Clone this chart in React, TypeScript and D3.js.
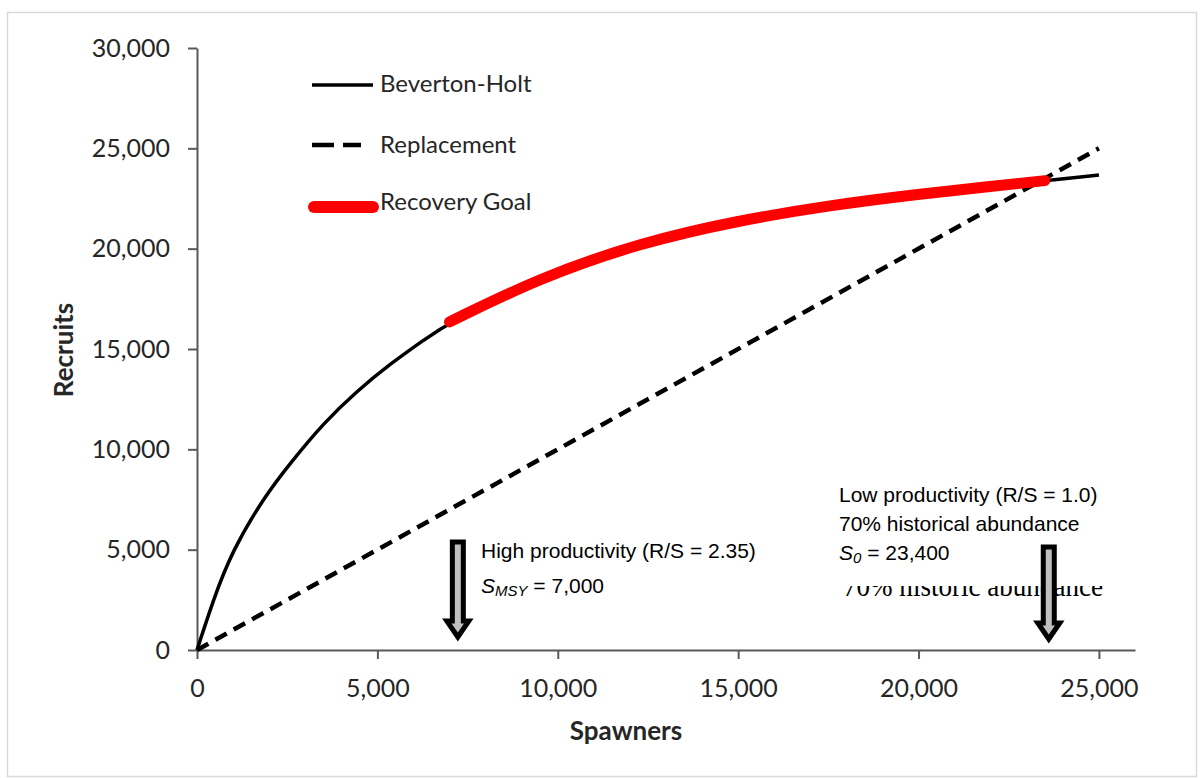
import * as d3 from "d3";
import React, { useEffect, useRef } from "react";

// Beverton-Holt curve
const spawners = [0, 450, 960, 1890, 2580, 3500, 4430, 5350, 6250, 7000, 9500, 12300, 15000, 17500, 20000, 22000, 23500, 25000];
const recruits = [0, 2490, 4900, 7700, 9300, 11300, 12900, 14250, 15400, 16350, 18550, 20300, 21400, 22150, 22720, 23100, 23390, 23670];

// replacement line R = S
const replacementS = [0, 25000];
const replacementR = [0, 25000];

// recovery goal segment on the curve
const goalFrom = 7000;
const goalTo = 23500;

const xTicks = [0, 5000, 10000, 15000, 20000, 25000];
const yTicks = [0, 5000, 10000, 15000, 20000, 25000, 30000];

// block arrows marking S_MSY and S_0
const arrowS = [7230, 23610];
const arrowTopR = [5380, 5130];
const arrowTipR = [500, 400];

const legendNames = ["Beverton-Holt", "Replacement", "Recovery Goal"];

const W = 1202;
const H = 778;
const calibri = "Lato, 'Open Sans', sans-serif";
const arial = "'Liberation Sans', Arial, sans-serif";

const Chart: React.FC = () => {
  const ref = useRef<SVGSVGElement>(null);

  useEffect(() => {
    if (!ref.current) return;
    const svg = d3.select(ref.current);
    svg.selectAll("*").remove();

    const x = d3.scaleLinear().domain([0, 26000]).range([197, 1135]);
    const y = d3.scaleLinear().domain([0, 30000]).range([650, 48]);

    // frame
    svg
      .append("rect")
      .attr("x", 7.5)
      .attr("y", 12.5)
      .attr("width", 1189)
      .attr("height", 764)
      .attr("fill", "#fff")
      .attr("stroke", "#d9d9d9")
      .attr("stroke-width", 1.5);

    // axes
    const fmt = d3.format(",");
    const yAxis = svg
      .append("g")
      .attr("transform", `translate(197,0)`)
      .call(
        d3
          .axisLeft(y)
          .tickValues(yTicks)
          .tickSize(9)
          .tickSizeOuter(0)
          .tickPadding(18)
          .tickFormat((d) => fmt(d as number))
      );
    const xAxis = svg
      .append("g")
      .attr("transform", `translate(0,650)`)
      .call(
        d3
          .axisBottom(x)
          .tickValues(xTicks)
          .tickSize(9)
          .tickSizeOuter(0)
          .tickPadding(20)
          .tickFormat((d) => fmt(d as number))
      );
    [xAxis, yAxis].forEach((g) => {
      g.select(".domain").attr("stroke", "#595959").attr("stroke-width", 2);
      g.selectAll(".tick line").attr("stroke", "#595959").attr("stroke-width", 2);
      g.selectAll(".tick text")
        .attr("fill", "#262626")
        .style("font-family", calibri)
        .style("font-size", "25px");
    });

    // axis titles
    svg
      .append("text")
      .attr("x", 626)
      .attr("y", 740)
      .attr("text-anchor", "middle")
      .style("font-family", calibri)
      .style("font-size", "26px")
      .style("font-weight", "bold")
      .attr("fill", "#262626")
      .text("Spawners");
    svg
      .append("text")
      .attr("transform", "translate(73,350) rotate(-90)")
      .attr("text-anchor", "middle")
      .style("font-family", calibri)
      .style("font-size", "26px")
      .style("font-weight", "bold")
      .attr("fill", "#262626")
      .text("Recruits");

    const pts: [number, number][] = spawners.map((s, i) => [s, recruits[i]]);
    const line = d3
      .line<[number, number]>()
      .x((d) => x(d[0]))
      .y((d) => y(d[1]))
      .curve(d3.curveBasis);

    // replacement
    svg
      .append("path")
      .attr("d", line(replacementS.map((s, i) => [s, replacementR[i]])))
      .attr("fill", "none")
      .attr("stroke", "#000")
      .attr("stroke-width", 4.5)
      .attr("stroke-dasharray", "13,8");

    // Beverton-Holt
    svg
      .append("path")
      .attr("d", line(pts))
      .attr("fill", "none")
      .attr("stroke", "#000")
      .attr("stroke-width", 3.5);

    // recovery goal
    svg
      .append("path")
      .attr("d", line(pts.filter((d) => d[0] >= goalFrom && d[0] <= goalTo)))
      .attr("fill", "none")
      .attr("stroke", "#ff0000")
      .attr("stroke-width", 11)
      .attr("stroke-linecap", "round");

    // legend
    const leg = svg.append("g");
    const legY = [85, 145, 207];
    const legBase = [92, 153, 210];
    leg
      .append("line")
      .attr("x1", 312).attr("x2", 373).attr("y1", legY[0]).attr("y2", legY[0])
      .attr("stroke", "#000").attr("stroke-width", 3.5);
    leg
      .append("line")
      .attr("x1", 312).attr("x2", 361).attr("y1", legY[1]).attr("y2", legY[1])
      .attr("stroke", "#000").attr("stroke-width", 4.5)
      .attr("stroke-dasharray", "22,9");
    leg
      .append("line")
      .attr("x1", 314).attr("x2", 373).attr("y1", legY[2]).attr("y2", legY[2])
      .attr("stroke", "#ff0000").attr("stroke-width", 12)
      .attr("stroke-linecap", "round");
    legendNames.forEach((n, i) => {
      leg
        .append("text")
        .attr("x", 380)
        .attr("y", legBase[i])
        .style("font-family", calibri)
        .style("font-size", "24px")
        .attr("fill", "#262626")
        .text(n);
    });

    // leftover text, only its lower strip shows
    const defs = svg.append("defs");
    defs
      .append("clipPath")
      .attr("id", "cut")
      .append("rect")
      .attr("x", 830)
      .attr("y", 586)
      .attr("width", 290)
      .attr("height", 20);
    svg
      .append("text")
      .attr("clip-path", "url(#cut)")
      .attr("x", 843)
      .attr("y", 596)
      .attr("textLength", 260)
      .attr("lengthAdjust", "spacingAndGlyphs")
      .style("font-family", "'Liberation Serif', 'Times New Roman', serif")
      .style("font-size", "30px")
      .attr("fill", "#000")
      .text("70% historic abundance");

    // arrows
    arrowS.forEach((s, i) => {
      const cx = x(s);
      const top = y(arrowTopR[i]);
      const tip = y(arrowTipR[i]);
      const headTop = tip - 19;
      const sw = 5.5;
      const hw = 11;
      const p = d3.path();
      p.moveTo(cx - sw, top);
      p.lineTo(cx + sw, top);
      p.lineTo(cx + sw, headTop);
      p.lineTo(cx + hw, headTop);
      p.lineTo(cx, tip - 3);
      p.lineTo(cx - hw, headTop);
      p.lineTo(cx - sw, headTop);
      p.closePath();
      svg
        .append("path")
        .attr("d", p.toString())
        .attr("fill", "#bfbfbf")
        .attr("stroke", "#000")
        .attr("stroke-width", 5)
        .attr("stroke-linejoin", "miter");
    });

    // annotations
    const note = (tx: number, ty: number) =>
      svg
        .append("text")
        .attr("x", tx)
        .attr("y", ty)
        .style("font-family", arial)
        .style("font-size", "21px")
        .attr("fill", "#000");

    note(481, 558).text("High productivity (R/S = 2.35)");
    const t1 = note(481, 593);
    t1.append("tspan").style("font-style", "italic").text("S");
    t1.append("tspan").style("font-style", "italic").style("font-size", "15px").attr("dy", 3).text("MSY");
    t1.append("tspan").attr("dy", -3).text(" = 7,000");

    note(839, 502).text("Low productivity (R/S = 1.0)");
    note(839, 531).text("70% historical abundance");
    const t2 = note(839, 560);
    t2.append("tspan").style("font-style", "italic").text("S");
    t2.append("tspan").style("font-style", "italic").style("font-size", "15px").attr("dy", 3).text("0");
    t2.append("tspan").attr("dy", -3).text(" = 23,400");
  }, []);

  return (
    <svg
      ref={ref}
      width={W}
      height={H}
      style={{ position: "absolute", left: 0, top: 0, background: "#fff" }}
    ></svg>
  );
};

export default function App() {
  return <Chart />;
}
